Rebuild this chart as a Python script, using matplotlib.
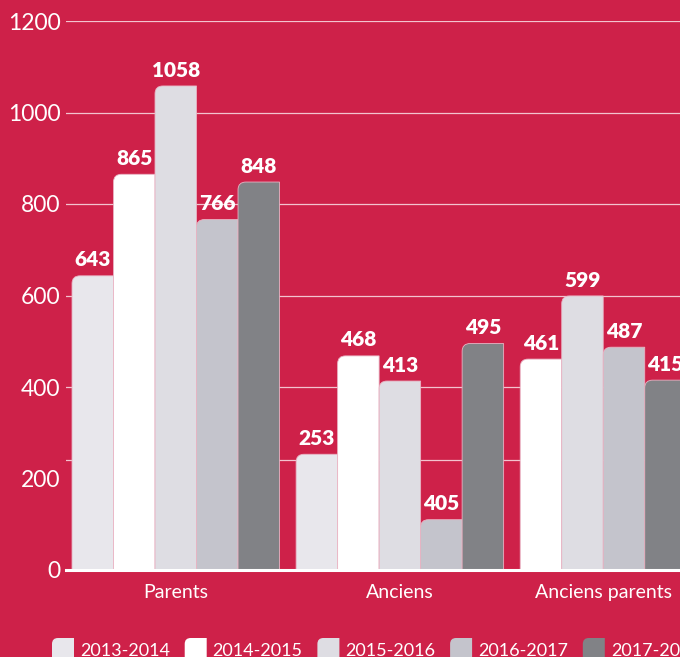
import matplotlib
matplotlib.use("Agg")
import matplotlib.pyplot as plt
from matplotlib.path import Path
from matplotlib.patches import PathPatch

# ==================== DONNÉES ====================
categories = ["Parents", "Anciens", "Anciens parents"]
saisons = ["2013-2014", "2014-2015", "2015-2016", "2016-2017", "2017-2018"]

v_2013 = [643, 253, None]
v_2014 = [865, 468, 461]
v_2015 = [1058, 413, 599]
v_2016 = [766, 405, 487]
v_2017 = [848, 495, 415]
# la barre "405" est dessinée beaucoup plus basse dans l'original
h_2016 = [766, 110, 487]

valeurs = [v_2013, v_2014, v_2015, v_2016, v_2017]
hauteurs = [v_2013, v_2014, v_2015, h_2016, v_2017]

yticks = [0, 200, 400, 600, 800, 1000, 1200]
grille = [240, 400, 600, 800, 1000, 1200]

# ==================== STYLE ====================
FOND = "#CE2149"
COULEURS = ["#E8E7EC", "#FFFFFF", "#DEDDE3", "#C4C4CC", "#818286"]
BORD = "#E9B4C4"
W, H = 680, 657


def barre_arrondie(ax, x0, larg, haut, couleur, rx=0.19, ry=17.0):
    # coin supérieur gauche arrondi seulement
    verts = [(x0, 0), (x0, haut - ry), (x0, haut), (x0 + rx, haut),
             (x0 + larg, haut), (x0 + larg, 0), (x0, 0)]
    codes = [Path.MOVETO, Path.LINETO, Path.CURVE3, Path.CURVE3,
             Path.LINETO, Path.LINETO, Path.CLOSEPOLY]
    ax.add_patch(PathPatch(Path(verts, codes), facecolor=couleur,
                           edgecolor=BORD, lw=0.6, zorder=3))


fig = plt.figure(figsize=(W / 100, H / 100), dpi=100, facecolor=FOND)
ax = fig.add_axes([66 / W, 87 / H, 614 / W, 549 / H])
ax.set_facecolor(FOND)

ecart_groupe = 5.4
for g, cat in enumerate(categories):
    slot = 0
    for s in range(len(saisons)):
        val = valeurs[s][g]
        if val is None:
            continue
        x0 = g * ecart_groupe + slot
        h = hauteurs[s][g]
        barre_arrondie(ax, x0, 1.0, h, COULEURS[s])
        ax.text(x0 + 0.5, h + 14, str(val), ha="center", va="bottom",
                color="white", fontsize=15, fontweight="heavy",
                family="Lato", zorder=4, clip_on=False)
        slot += 1
    ax.text(g * ecart_groupe + slot / 2, -50, cat, ha="center", va="center",
            color="white", fontsize=14, family="Lato")

for y in grille:
    ax.axhline(y, color="#F3C3CF", lw=0.9, zorder=1)

ax.set_xlim(-0.145, 14.65)
ax.set_ylim(0, 1200)
ax.set_xticks([])
ax.set_yticks(yticks)
ax.set_yticklabels([str(t) for t in yticks], fontsize=16.5, color="white",
                   family="Lato")
ax.tick_params(axis="y", length=0, pad=4)
for sp in ["top", "right", "left"]:
    ax.spines[sp].set_visible(False)
ax.spines["bottom"].set_color("white")
ax.spines["bottom"].set_linewidth(2.2)
ax.spines["bottom"].set_zorder(5)

# légende en bas (coupée par le bord comme l'original)
lax = fig.add_axes([0, 0, 1, 1], facecolor="none")
lax.set_xlim(0, W)
lax.set_ylim(H, 0)
lax.axis("off")
for i, saison in enumerate(saisons):
    x = 52 + i * 132.7
    verts = [(x, 670), (x, 644), (x, 638), (x + 6, 638), (x + 22, 638),
             (x + 22, 670), (x, 670)]
    codes = [Path.MOVETO, Path.LINETO, Path.CURVE3, Path.CURVE3,
             Path.LINETO, Path.LINETO, Path.CLOSEPOLY]
    lax.add_patch(PathPatch(Path(verts, codes), facecolor=COULEURS[i],
                            edgecolor="none"))
    lax.text(x + 28, 651, saison, ha="left", va="center", color="white",
             fontsize=13, family="Lato")

fig.savefig("out.png", dpi=100, facecolor=FOND)
